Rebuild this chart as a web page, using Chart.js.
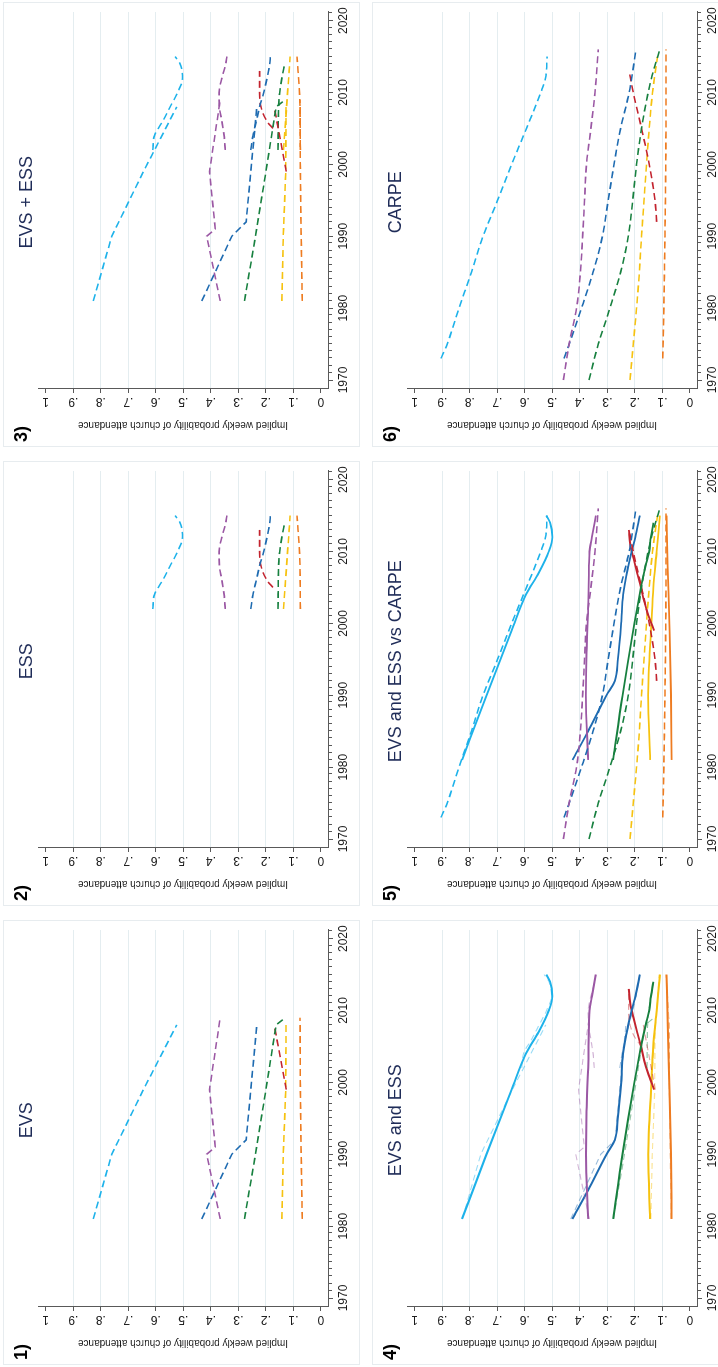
<!DOCTYPE html>
<html>
<head>
<meta charset="utf-8">
<title>Implied weekly probability of church attendance</title>
<script src="https://cdn.jsdelivr.net/npm/chart.js@4.4.1/dist/chart.umd.min.js"></script>
<style>
  html, body { margin: 0; padding: 0; background: #fff; }
  body { width: 718px; height: 1367px; overflow: hidden; position: relative; }
  /* the figure is laid out landscape and turned a quarter turn anticlockwise */
  #figure {
    position: absolute; left: 0; top: 0;
    width: 1367px; height: 718px;
    transform-origin: 0 0;
    transform: translateY(1367px) rotate(-90deg);
    overflow: hidden;
  }
  .panel {
    position: absolute; width: 445px; height: 357px;
    box-shadow: inset 0 0 0 1px #e7ecef;
  }
  .panel canvas { position: absolute; left: 0; top: 0; }
</style>
</head>
<body>
<div id="figure">
  <div class="panel" style="left:2px;top:3px"><canvas id="c1" width="445" height="357"></canvas></div>
  <div class="panel" style="left:461px;top:3px"><canvas id="c2" width="445" height="357"></canvas></div>
  <div class="panel" style="left:920px;top:3px"><canvas id="c3" width="445" height="357"></canvas></div>
  <div class="panel" style="left:2px;top:372px"><canvas id="c4" width="445" height="357"></canvas></div>
  <div class="panel" style="left:461px;top:372px"><canvas id="c5" width="445" height="357"></canvas></div>
  <div class="panel" style="left:920px;top:372px"><canvas id="c6" width="445" height="357"></canvas></div>
</div>
<script>
// one colour per country, same order in every array below
const colours = ['#1db2ea', '#9b58a4', '#1e6bb1', '#17803f', '#c3232e', '#f6c20f', '#ee7c21'];

const yearTicks = [1970, 1980, 1990, 2000, 2010, 2020];
const probTicks = [0, 0.1, 0.2, 0.3, 0.4, 0.5, 0.6, 0.7, 0.8, 0.9, 1];
const probLabels = ['0', '.1', '.2', '.3', '.4', '.5', '.6', '.7', '.8', '.9', '1'];

// EVS waves
const evsYears = [
    [1981, 1990, 1999, 2008],
    [1981, 1990, 1991, 1999, 2009],
    [1981, 1990, 1992, 2008],
    [1981, 1990, 1999, 2008, 2009],
    [1999, 2008],
    [1981, 1990, 1999, 2008],
    [1981, 1990, 1999, 2009]
];
const evsValues = [
    [0.827, 0.76, 0.645, 0.524],
    [0.366, 0.415, 0.384, 0.405, 0.366],
    [0.433, 0.324, 0.272, 0.233],
    [0.278, 0.238, 0.2, 0.163, 0.13],
    [0.126, 0.17],
    [0.142, 0.137, 0.128, 0.127],
    [0.068, 0.072, 0.075, 0.076]
];

// ESS rounds
const essYears = [
    [2002, 2004, 2006, 2008, 2010, 2012, 2014, 2015],
    [2002, 2004, 2006, 2008, 2010, 2012, 2014, 2015],
    [2002, 2004, 2006, 2008, 2010, 2012, 2014, 2015],
    [2002, 2006, 2008, 2010, 2012, 2014],
    [2005, 2006, 2008, 2010, 2013],
    [2002, 2008, 2015],
    [2002, 2009, 2015]
];
const essValues = [
    [0.611, 0.605, 0.575, 0.548, 0.521, 0.503, 0.512, 0.53],
    [0.348, 0.352, 0.36, 0.369, 0.37, 0.36, 0.346, 0.342],
    [0.255, 0.247, 0.235, 0.223, 0.208, 0.196, 0.186, 0.184],
    [0.156, 0.155, 0.154, 0.15, 0.142, 0.132],
    [0.175, 0.196, 0.218, 0.223, 0.223],
    [0.136, 0.125, 0.112],
    [0.075, 0.077, 0.087]
];

// EVS and ESS pooled
const pooledYears = [
    [1981, 1990, 1999, 2004, 2007, 2010, 2012, 2014, 2015],
    [1981, 1990, 1996, 2002, 2008, 2010, 2012, 2015],
    [1981, 1985, 1990, 1992, 1995, 2000, 2004, 2008, 2010, 2012, 2015],
    [1981, 1990, 2000, 2005, 2008, 2010, 2012, 2014],
    [1999, 2001, 2003, 2005, 2007, 2009, 2011, 2013],
    [1981, 1990, 2000, 2005, 2010, 2015],
    [1981, 1990, 2000, 2008, 2015]
];
const pooledValues = [
    [0.828, 0.739, 0.648, 0.596, 0.55, 0.513, 0.5, 0.508, 0.522],
    [0.37, 0.378, 0.376, 0.37, 0.367, 0.365, 0.356, 0.342],
    [0.427, 0.37, 0.303, 0.273, 0.262, 0.25, 0.243, 0.224, 0.212, 0.198, 0.182],
    [0.279, 0.245, 0.202, 0.178, 0.161, 0.148, 0.142, 0.133],
    [0.13, 0.15, 0.166, 0.178, 0.192, 0.205, 0.217, 0.222],
    [0.145, 0.152, 0.14, 0.133, 0.121, 0.109],
    [0.067, 0.069, 0.075, 0.081, 0.085]
];

// CARPE estimates
const carpeYears = [
    [1973, 1975, 1980, 1985, 1990, 1995, 2000, 2005, 2010, 2012, 2015],
    [1970, 1975, 1980, 1985, 1990, 1995, 2000, 2005, 2010, 2016],
    [1973, 1975, 1980, 1985, 1990, 1995, 2000, 2005, 2010, 2016],
    [1970, 1975, 1980, 1985, 1990, 1995, 2000, 2005, 2010, 2013, 2016],
    [1992, 1995, 2000, 2005, 2010, 2013],
    [1970, 1975, 1980, 1985, 1990, 1995, 2000, 2005, 2010, 2015],
    [1973, 1980, 1990, 2000, 2010, 2016]
];
const carpeValues = [
    [0.905, 0.882, 0.839, 0.794, 0.752, 0.699, 0.648, 0.594, 0.542, 0.525, 0.519],
    [0.46, 0.439, 0.412, 0.398, 0.39, 0.383, 0.376, 0.36, 0.345, 0.333],
    [0.458, 0.439, 0.394, 0.352, 0.318, 0.297, 0.276, 0.252, 0.221, 0.196],
    [0.367, 0.333, 0.291, 0.252, 0.224, 0.208, 0.194, 0.176, 0.152, 0.133, 0.109],
    [0.121, 0.127, 0.148, 0.176, 0.206, 0.221],
    [0.218, 0.206, 0.194, 0.184, 0.176, 0.167, 0.158, 0.148, 0.136, 0.118],
    [0.099, 0.095, 0.091, 0.088, 0.087, 0.087]
];

const axisColor = '#595959';
const gridColor = '#e4edf0';
const textColor = '#1a1a1a';
const titleColor = '#1f2c58';
const fontFamily = "'Liberation Sans', Arial, Helvetica, sans-serif";

Chart.defaults.font.family = fontFamily;

function fade(hex, alpha) {
    const n = parseInt(hex.slice(1), 16);
    return 'rgba(' + (n >> 16) + ',' + ((n >> 8) & 255) + ',' + (n & 255) + ',' + alpha + ')';
}

function lines(yearsList, valuesList, style) {
    return yearsList.map((yrs, i) => ({
        data: yrs.map((yr, k) => ({ x: yr, y: valuesList[i][k] })),
        borderColor: style.alpha ? fade(colours[i], style.alpha) : colours[i],
        borderWidth: style.width,
        borderDash: style.dash || [],
        borderCapStyle: 'butt',
        cubicInterpolationMode: style.smooth ? 'monotone' : 'default',
        tension: 0,
        pointRadius: 0,
        fill: false
    }));
}

// panel number, title, vertical y labels (Stata style) and one-year minor ticks
const panelText = {
    id: 'panelText',
    afterDraw(chart, args, opts) {
        const ctx = chart.ctx;
        const x = chart.scales.x;
        const y = chart.scales.y;
        const area = chart.chartArea;
        ctx.save();
        ctx.fillStyle = '#000';
        ctx.font = 'bold 18px ' + fontFamily;
        ctx.textAlign = 'left';
        ctx.textBaseline = 'alphabetic';
        ctx.fillText(opts.label, 5, 24);

        ctx.fillStyle = titleColor;
        ctx.font = '18px ' + fontFamily;
        ctx.textAlign = 'center';
        const mid = (x.getPixelForValue(yearTicks[0]) + x.getPixelForValue(yearTicks[yearTicks.length - 1])) / 2;
        ctx.fillText(opts.title, mid - 2, 29);

        ctx.fillStyle = textColor;
        ctx.font = '12px ' + fontFamily;
        ctx.textBaseline = 'middle';
        probTicks.forEach((v, i) => {
            ctx.save();
            ctx.translate(area.left - 12, y.getPixelForValue(v));
            ctx.rotate(-Math.PI / 2);
            ctx.fillText(probLabels[i], 0, 0);
            ctx.restore();
        });

        ctx.strokeStyle = axisColor;
        ctx.lineWidth = 1;
        for (let yr = 1970; yr <= 2021; yr++) {
            if (yr % 10 === 0) continue;
            const px = Math.round(x.getPixelForValue(yr)) + 0.5;
            ctx.beginPath();
            ctx.moveTo(px, area.bottom);
            ctx.lineTo(px, area.bottom + 4);
            ctx.stroke();
        }
        ctx.restore();
    }
};

function makePanel(id, label, title, datasets) {
    new Chart(document.getElementById(id), {
        type: 'line',
        data: { datasets: datasets },
        options: {
            responsive: false,
            animation: false,
            events: [],
            layout: { padding: { left: 0, right: 10, top: 35, bottom: 0 } },
            plugins: {
                legend: { display: false },
                tooltip: { enabled: false },
                panelText: { label: label, title: title }
            },
            scales: {
                x: {
                    type: 'linear',
                    min: 1968.75,
                    max: 2021.2,
                    afterBuildTicks: function(scale) {
                        scale.ticks = yearTicks.map(v => ({ value: v }));
                    },
                    afterFit: function(scale) { scale.height = 32; },
                    grid: { drawOnChartArea: false, tickLength: 5, tickColor: axisColor, tickWidth: 1 },
                    border: { display: true, color: axisColor, width: 1 },
                    ticks: {
                        color: textColor,
                        font: { size: 12 },
                        padding: 3,
                        maxRotation: 0,
                        autoSkip: false,
                        callback: v => String(v)
                    }
                },
                y: {
                    type: 'linear',
                    min: -0.0255,
                    max: 1.028,
                    afterBuildTicks: function(scale) {
                        scale.ticks = probTicks.map(v => ({ value: v }));
                    },
                    afterFit: function(scale) { scale.width = 58; },
                    grid: {
                        color: c => (c.tick && c.tick.value > 0 && c.tick.value < 1) ? gridColor : 'rgba(0,0,0,0)',
                        lineWidth: 1,
                        tickLength: 4,
                        tickColor: axisColor,
                        tickWidth: 1
                    },
                    border: { display: true, color: axisColor, width: 1 },
                    ticks: { display: false },
                    title: {
                        display: true,
                        text: 'Implied weekly probability of church attendance',
                        color: textColor,
                        font: { size: 10 },
                        padding: { top: 16.5, bottom: 0 }
                    }
                }
            }
        },
        plugins: [panelText]
    });
}

const dashed = { width: 1.6, dash: [7, 4] };
const dashedSmooth = { width: 1.6, dash: [7, 4], smooth: true };

makePanel('c1', '1)', 'EVS', lines(evsYears, evsValues, dashed));
makePanel('c2', '2)', 'ESS', lines(essYears, essValues, dashedSmooth));
makePanel('c3', '3)', 'EVS + ESS',
    lines(evsYears, evsValues, dashed).concat(lines(essYears, essValues, dashedSmooth)));
makePanel('c4', '4)', 'EVS and ESS',
    lines(evsYears, evsValues, { width: 1.1, dash: [6, 4], alpha: 0.45 })
        .concat(lines(essYears, essValues, { width: 1.1, dash: [6, 4], alpha: 0.45, smooth: true }))
        .concat(lines(pooledYears, pooledValues, { width: 2, smooth: true })));
makePanel('c5', '5)', 'EVS and ESS vs CARPE',
    lines(carpeYears, carpeValues, dashedSmooth)
        .concat(lines(pooledYears, pooledValues, { width: 1.8, smooth: true })));
makePanel('c6', '6)', 'CARPE', lines(carpeYears, carpeValues, dashedSmooth));
</script>
</body>
</html>
